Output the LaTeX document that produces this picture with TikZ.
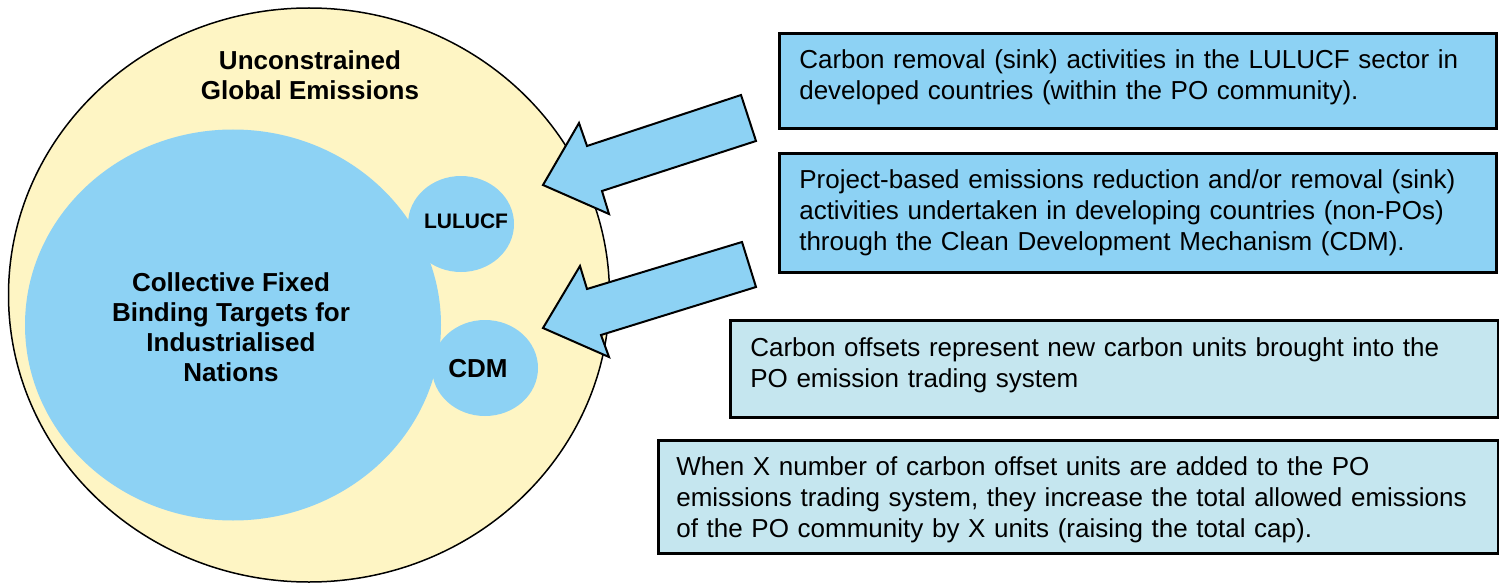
\documentclass[tikz,border=0pt]{standalone}
\usepackage{fontspec}
\setmainfont{Liberation Sans}
\usetikzlibrary{shapes.geometric}

\definecolor{globeyellow}{HTML}{FEF5C4}
\definecolor{targetblue}{HTML}{8DD2F4}
\definecolor{offsetblue}{HTML}{C5E6EF}

\tikzset{
  bubble/.style={ellipse, fill=targetblue, inner sep=0pt, align=center,
    font=\fontsize{26}{30}\selectfont\bfseries},
  infobox/.style={draw, line width=2.6pt, anchor=north west, align=left,
    inner xsep=20pt, inner ysep=0pt,
    font=\fontsize{26}{31}\selectfont},
  blockarrow/.style={fill=targetblue, draw, line width=2pt, line join=miter}
}

\begin{document}
\begin{tikzpicture}[x=1pt, y=-1pt]
    \useasboundingbox (0,0) rectangle (1499,583);

    % Outer circle
    \node[ellipse, draw, fill=globeyellow, line width=1.5pt, inner sep=0pt,
          minimum width=601pt, minimum height=574pt] (globe) at (309,295) {};
    \node[font=\fontsize{26}{30}\selectfont\bfseries, align=center] (globetxt) at (310,75)
        {Unconstrained\\Global Emissions};

    % Inner circles
    \node[bubble, minimum width=416pt, minimum height=391pt] (targets) at (233,325) {};
    \node[bubble, minimum width=106pt, minimum height=96pt] (lulucf) at (461,224) {};
    \node[bubble, minimum width=106pt, minimum height=96pt] (cdm) at (485,368) {};

    \node[font=\fontsize{26}{30}\selectfont\bfseries, align=center] (targetstxt) at (231,327)
        {Collective Fixed\\Binding Targets for\\Industrialised\\Nations};
    \node[font=\fontsize{21}{25}\selectfont\bfseries] (lulucftxt) at (466,221) {LULUCF};
    \node[font=\fontsize{26}{30}\selectfont\bfseries] (cdmtxt) at (478,369) {CDM};

    % Block arrows
    \draw[blockarrow] (741,95) -- (587,146) -- (579,123) -- (543,185)
        -- (609,214) -- (602,191) -- (756,141) -- cycle;
    \draw[blockarrow] (742,242) -- (587,289) -- (580,266) -- (543,328)
        -- (609,357) -- (601,335) -- (756,287) -- cycle;

    % Text boxes
    \node[infobox, fill=targetblue, minimum width=717pt, minimum height=95pt,
          text width=677pt] (sinkbox) at (778,32)
        {Carbon removal (sink) activities in the LULUCF sector in\\
         developed countries (within the PO community).\rule[-13pt]{0pt}{1pt}};
    \node[infobox, fill=targetblue, minimum width=717pt, minimum height=119pt,
          text width=677pt] (cdmbox) at (778,152)
        {Project-based emissions reduction and/or removal (sink)\\
         activities undertaken in developing countries (non-POs)\\
         through the Clean Development Mechanism (CDM).};
    \node[infobox, fill=offsetblue, minimum width=768pt, minimum height=97pt,
          text width=728pt] (offsetbox) at (729,319)
        {Carbon offsets represent new carbon units brought into the\\
         PO emission trading system\rule[-13pt]{0pt}{1pt}};
    \node[infobox, fill=offsetblue, minimum width=840pt, minimum height=113pt,
          text width=804pt, inner xsep=18pt] (capbox) at (657,439)
        {\rule{0pt}{25pt}When X number of carbon offset units are added to the PO\\
         emissions trading system, they increase the total allowed emissions\\
         of the PO community by X units (raising the total cap).};
\end{tikzpicture}
\end{document}
